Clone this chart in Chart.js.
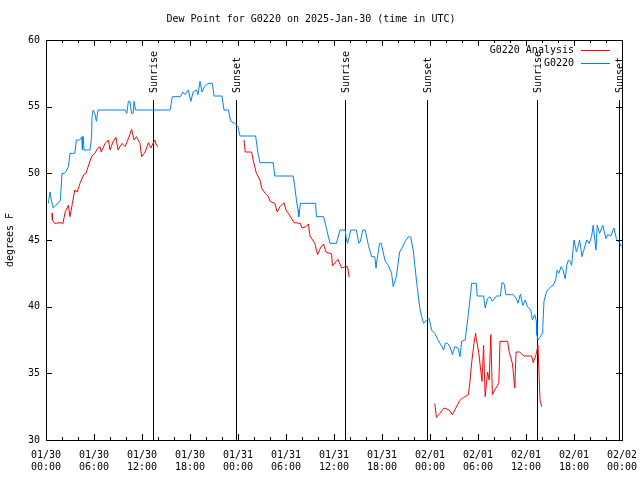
<!DOCTYPE html>
<html>
<head>
<meta charset="utf-8">
<script src="https://cdn.jsdelivr.net/npm/chart.js@4.4.1/dist/chart.umd.min.js"></script>
<style>
  html, body { margin: 0; padding: 0; background: #fff; }
  canvas { display: block; }
</style>
</head>
<body>
<canvas id="grafico" width="640" height="480"></canvas>
<script>
// hours since 2025-01-30 00:00 UTC
const tickLabels = [
  ["01/30", "00:00"], ["01/30", "06:00"], ["01/30", "12:00"], ["01/30", "18:00"],
  ["01/31", "00:00"], ["01/31", "06:00"], ["01/31", "12:00"], ["01/31", "18:00"],
  ["02/01", "00:00"], ["02/01", "06:00"], ["02/01", "12:00"], ["02/01", "18:00"],
  ["02/02", "00:00"]
];

const eventTimes = [13.41, 23.71, 37.4, 47.67, 61.33, 71.6];
const eventNames = ["Sunrise", "Sunset", "Sunrise", "Sunset", "Sunrise", "Sunset"];

const analysisTimes = [
  0.75, 0.8, 1.1, 1.9, 2.1, 2.4, 2.8, 3.0, 3.3, 3.6, 3.9, 4.25, 4.7, 5.0, 5.4, 5.7,
  6.1, 6.5, 6.75, 6.9, 7.4, 7.8, 8.0, 8.4, 8.75, 9.0, 9.5, 9.9, 10.3, 10.7, 11.0,
  11.3, 11.75, 11.95, 12.4, 12.8, 13.1, 13.6, 13.8, 14.0,
  19.0,
  24.75, 24.9, 25.7, 25.9, 26.3, 26.75, 26.95, 27.4, 27.8, 28.0, 28.6, 28.9, 29.25,
  29.75, 30.0, 30.3, 30.7, 31.0, 31.8, 32.0, 32.5, 32.8, 33.0, 33.6, 33.95, 34.3,
  34.7, 35.0, 35.7, 35.8, 36.5, 36.95, 37.4, 37.7, 37.9,
  43.0,
  48.6, 48.8, 49.25, 49.75, 50.4, 50.8, 51.1, 51.7, 52.2, 52.8, 53.0, 53.2, 53.5,
  53.7, 53.75, 54.1, 54.5, 54.7, 54.9, 55.2, 55.4, 55.6, 55.8, 56.1, 56.6, 56.75,
  57.7, 57.9, 58.3, 58.6, 58.75, 59.2, 59.75, 60.7, 60.9, 61.25, 61.5, 61.6, 61.75, 61.95
];
const analysisValues = [
  47.0, 46.5, 46.25, 46.3, 46.2, 47.1, 47.6, 46.75, 47.75, 48.75, 48.6, 49.25, 49.9, 50.0, 50.75, 51.25,
  51.5, 51.9, 52.0, 51.6, 52.25, 52.5, 51.75, 52.4, 52.7, 51.75, 52.25, 52.0, 52.6, 53.3, 52.5,
  52.75, 52.25, 51.25, 51.6, 52.3, 51.9, 52.5, 52.1, 52.0,
  null,
  52.5, 51.6, 51.6, 51.0, 50.0, 49.5, 48.9, 48.5, 48.25, 47.9, 47.75, 47.1, 47.5,
  47.8, 47.25, 47.0, 46.6, 46.3, 46.25, 45.9, 46.0, 46.2, 45.3, 44.75, 43.9, 44.4,
  44.7, 44.1, 43.95, 43.05, 43.55, 42.9, 43.0, 43.0, 42.2,
  null,
  32.75, 31.7, 32.0, 32.4, 32.25, 31.9, 32.25, 32.95, 33.2, 33.4, 34.4, 35.75, 37.25,
  38.0, 37.75, 36.5, 34.4, 37.1, 33.25, 35.1, 34.5, 37.9, 33.4, 33.75, 34.25, 37.4,
  37.4, 36.6, 35.75, 33.9, 36.6, 36.6, 36.3, 36.3, 35.8, 36.4, 37.1, 37.1, 33.0, 32.5
];

const stationTimes = [
  0.3, 0.5, 0.7, 0.9, 1.2, 1.5, 1.8, 2.0, 2.3, 2.6, 2.8, 3.0, 3.6, 3.8, 4.2, 4.5,
  4.55, 4.65, 4.75, 5.5, 5.7, 5.75, 5.9, 6.1, 6.3, 6.5, 9.9, 10.1, 10.3, 10.5, 10.7,
  10.9, 11.0, 11.2, 15.5, 15.8, 16.8, 17.1, 17.4, 17.8, 18.1, 18.4, 18.8, 19.0, 19.25,
  19.5, 19.8, 20.3, 20.8, 21.0, 22.0, 22.25, 22.8, 23.1, 23.6, 24.0, 24.25, 26.2, 26.5,
  26.75, 28.4, 28.6, 30.9, 31.1, 31.3, 31.5, 31.6, 31.8, 33.7, 33.8, 34.7, 35.1, 35.5,
  36.3, 36.75, 37.4, 37.55, 37.7, 38.1, 38.8, 39.1, 39.3, 39.6, 39.9, 40.3, 40.7, 41.1,
  41.25, 41.4, 41.7, 41.9, 42.4, 42.8, 43.2, 43.4, 43.8, 44.2, 44.5, 44.9, 45.3, 45.6,
  45.9, 46.3, 46.7, 46.95, 47.2, 47.6, 47.9, 48.2, 48.6, 49.0, 49.25, 49.5, 49.7, 49.9,
  50.2, 50.5, 50.8, 51.1, 51.5, 51.75, 51.95, 52.4, 52.6, 52.8, 53.1, 53.2, 53.8, 53.9,
  54.7, 54.9, 55.2, 55.5, 55.8, 56.3, 56.8, 57.0, 57.25, 57.5, 58.4, 58.8, 59.0, 59.3,
  59.6, 59.9, 60.2, 60.6, 60.8, 61.1, 61.3, 61.35, 61.5, 61.8, 62.0, 62.1, 62.25, 62.5,
  62.7, 63.2, 63.4, 63.7, 63.9, 64.1, 64.4, 64.6, 64.9, 65.1, 65.3, 65.5, 65.7, 66.0,
  66.3, 66.6, 66.7, 67.0, 67.3, 67.6, 67.9, 68.2, 68.4, 68.75, 68.9, 69.2, 69.6, 70.0,
  70.2, 70.6, 71.0, 71.3, 71.75, 71.9
];
const stationValues = [
  47.75, 48.6, 47.9, 47.4, 47.6, 47.75, 48.0, 50.0, 50.0, 50.25, 50.5, 51.5, 51.5, 52.5, 52.5, 52.75,
  51.75, 52.75, 51.75, 51.75, 52.75, 54.25, 54.75, 54.5, 53.9, 54.75, 54.75, 54.5, 55.4, 55.4, 54.5,
  54.5, 55.4, 54.75, 54.75, 55.75, 55.75, 56.1, 55.9, 56.25, 55.4, 56.1, 56.25, 55.9, 56.9,
  56.1, 56.5, 56.75, 56.75, 55.8, 55.8, 54.75, 54.75, 53.9, 53.75, 53.5, 52.8, 52.8, 51.5,
  50.8, 50.8, 49.8, 49.8, 49.0, 48.0, 47.25, 46.75, 47.75, 47.75, 46.75, 46.75, 45.75, 44.75,
  44.75, 45.75, 45.75, 45.0, 44.75, 45.75, 45.75, 44.75, 44.9, 45.75, 45.75, 44.6, 43.75, 43.75,
  42.9, 43.6, 44.75, 44.75, 43.4, 43.1, 42.5, 41.5, 42.25, 44.1, 44.4, 44.9, 45.25, 45.2,
  44.25, 42.0, 40.0, 39.25, 38.75, 39.0, 39.1, 38.25, 38.0, 37.5, 37.25, 37.0, 36.75, 37.25,
  37.25, 37.0, 36.4, 37.0, 36.9, 36.25, 37.4, 37.5, 38.5, 39.5, 41.1, 41.75, 41.75, 40.8,
  40.8, 39.9, 40.6, 40.75, 40.4, 40.8, 40.8, 41.8, 41.75, 40.9, 40.9, 40.6, 40.25, 40.95,
  40.1, 40.5, 40.0, 39.75, 39.0, 39.4, 38.9, 37.9, 37.5, 37.75, 38.0, 38.5, 40.4, 41.0,
  41.25, 41.55, 41.6, 42.0, 42.75, 42.5, 43.0, 42.8, 42.1, 43.1, 43.5, 43.4, 43.1, 45.0,
  44.1, 44.75, 45.0, 43.75, 44.4, 45.0, 44.75, 45.25, 46.1, 44.25, 46.1, 45.5, 46.1, 45.1,
  45.4, 45.3, 45.9, 45.1, 44.75, 44.5
];

const fonte = { family: "'DejaVu Sans Mono', 'Liberation Mono', monospace", size: 10, weight: "normal" };

function juntar(tempos, valores) {
  return tempos.map((t, i) => ({ x: t, y: valores[i] }));
}

// border, inward tics, sunrise/sunset lines and the legend, gnuplot style
const molduraPlugin = {
  id: "moldura",
  beforeDatasetsDraw(chart) {
    const ctx = chart.ctx;
    const area = chart.chartArea;
    const x = chart.scales.x;
    ctx.save();
    ctx.strokeStyle = "#000";
    ctx.lineWidth = 1;
    ctx.fillStyle = "#000";
    ctx.font = "10px " + fonte.family;
    eventTimes.forEach((t, i) => {
      const px = Math.round(x.getPixelForValue(t)) + 0.5;
      ctx.beginPath();
      ctx.moveTo(px, 100);
      ctx.lineTo(px, area.bottom);
      ctx.stroke();
      ctx.save();
      ctx.translate(px + 1, 93);
      ctx.rotate(-Math.PI / 2);
      ctx.textAlign = "left";
      ctx.textBaseline = "middle";
      ctx.fillText(eventNames[i], 0, 0);
      ctx.restore();
    });
    ctx.restore();
  },
  afterDatasetsDraw(chart) {
    const ctx = chart.ctx;
    const area = chart.chartArea;
    const x = chart.scales.x;
    const y = chart.scales.y;
    ctx.save();
    ctx.strokeStyle = "#000";
    ctx.lineWidth = 1;
    ctx.beginPath();
    for (let h = 0; h <= 72; h += 2) {
      const px = Math.round(x.getPixelForValue(h)) + 0.5;
      const len = h % 6 === 0 ? 6 : 3;
      ctx.moveTo(px, area.bottom);
      ctx.lineTo(px, area.bottom - len);
      ctx.moveTo(px, area.top);
      ctx.lineTo(px, area.top + len);
    }
    for (let v = 30; v <= 60; v += 5) {
      const py = Math.round(y.getPixelForValue(v)) + 0.5;
      ctx.moveTo(area.left, py);
      ctx.lineTo(area.left + 6, py);
      ctx.moveTo(area.right, py);
      ctx.lineTo(area.right - 6, py);
    }
    ctx.stroke();
    ctx.strokeRect(Math.round(area.left) + 0.5, Math.round(area.top) + 0.5,
      Math.round(area.right - area.left), Math.round(area.bottom - area.top));

    // legend
    ctx.font = "10px " + fonte.family;
    ctx.textAlign = "right";
    ctx.textBaseline = "middle";
    chart.data.datasets.forEach((ds, i) => {
      const ly = 50 + i * 13;
      ctx.fillStyle = "#000";
      ctx.fillText(ds.label, 574, ly);
      ctx.strokeStyle = ds.borderColor;
      ctx.beginPath();
      ctx.moveTo(581, ly + 0.5);
      ctx.lineTo(610, ly + 0.5);
      ctx.stroke();
    });
    ctx.restore();
  }
};

new Chart(document.getElementById("grafico"), {
  type: "line",
  data: {
    datasets: [
      {
        label: "G0220 Analysis",
        data: juntar(analysisTimes, analysisValues),
        borderColor: "#ff0000",
        borderWidth: 1,
        pointRadius: 0,
        tension: 0,
        spanGaps: false
      },
      {
        label: "G0220",
        data: juntar(stationTimes, stationValues),
        borderColor: "#0080ff",
        borderWidth: 1,
        pointRadius: 0,
        tension: 0
      }
    ]
  },
  options: {
    responsive: false,
    animation: false,
    devicePixelRatio: 1,
    layout: { padding: { top: 0, right: 18, left: 0, bottom: 0 } },
    plugins: {
      legend: { display: false },
      tooltip: { enabled: false },
      title: {
        display: true,
        text: "Dew Point for G0220 on 2025-Jan-30 (time in UTC)",
        color: "#000",
        font: fonte,
        padding: { top: 13, bottom: 15 }
      }
    },
    scales: {
      x: {
        type: "linear",
        min: 0,
        max: 72,
        grid: { display: false, drawTicks: false },
        border: { display: false },
        ticks: {
          stepSize: 6,
          autoSkip: false,
          maxRotation: 0,
          padding: 9,
          color: "#000",
          font: fonte,
          callback: (valor) => tickLabels[Math.round(valor / 6)]
        },
        afterFit: (escala) => {
          escala.height = 40;
          escala.paddingLeft = 0;
          escala.paddingRight = 0;
        }
      },
      y: {
        min: 30,
        max: 60,
        grid: { display: false, drawTicks: false },
        border: { display: false },
        ticks: { stepSize: 5, padding: 6, color: "#000", font: fonte },
        title: {
          display: true,
          text: "degrees F",
          color: "#000",
          font: fonte,
          padding: { top: 4, bottom: 0 }
        },
        afterFit: (escala) => { escala.width = 46; }
      }
    }
  },
  plugins: [molduraPlugin]
});
</script>
</body>
</html>
